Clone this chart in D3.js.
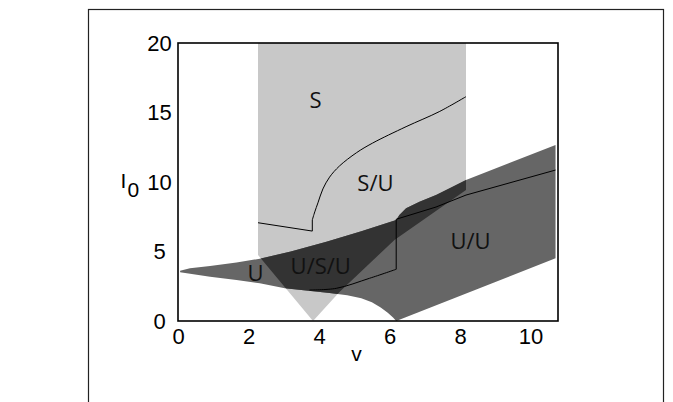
<!DOCTYPE html>
<html>
<head>
<meta charset="utf-8">
<script src="https://cdn.jsdelivr.net/npm/d3@7"></script>
<style>
  body { margin: 0; background: #fff; }
  .tick text { font-family: "Liberation Sans", Arial, sans-serif; font-size: 22px; fill: #000; }
</style>
</head>
<body>
<div id="chart"></div>
<script>
// Data (v, I0)
const xTicks = [0, 2, 4, 6, 8, 10]
const yTicks = [0, 5, 10, 15, 20]

// light region S (above the V, between the two verticals)
const lightRegion = [
  [2.27, 20], [2.27, 4.75], [3.83, 0], [4.58, 2.09], [6.14, 5.83], [8.17, 9.42], [8.17, 20]
]

// dark band U / U/U : upper and lower edges
const bandTop = [
  [0.06, 3.62], [0.34, 3.79], [0.91, 3.96], [1.66, 4.2], [2.32, 4.48], [3.2, 5.0],
  [4.21, 5.71], [5.2, 6.45], [6.19, 7.27], [6.28, 7.63], [6.47, 8.11], [6.85, 8.58],
  [7.32, 9.06], [7.79, 9.66], [8.17, 10.14], [10.71, 12.66]
]
const bandBottom = [
  [0.06, 3.5], [0.91, 3.19], [1.66, 2.95], [2.32, 2.71], [3.03, 2.35], [3.7, 2.17],
  [4.3, 2.02], [4.8, 1.86], [5.2, 1.63], [5.5, 1.35], [5.75, 0.98], [5.95, 0.6],
  [6.1, 0.25], [6.19, 0], [10.71, 4.51]
]

// black boundary curves
const upperStep = [[2.27, 7.07], [3.81, 6.47], [3.81, 7.27]]
const upperCurve = [
  [3.81, 7.27], [3.88, 7.85], [3.97, 8.5], [4.11, 9.5], [4.3, 10.35], [4.58, 11.15],
  [5.06, 12.1], [5.52, 12.8], [6.47, 13.98], [7.41, 15.06], [8.17, 16.14]
]
const lowerLeft = [[3.73, 2.23], [4.49, 2.35], [5.43, 3.07], [6.19, 3.72]]
const lowerRight = [[6.19, 3.72], [6.19, 7.32], [7.32, 8.2], [8.17, 9.06], [10.71, 10.86]]

const regionLabels = [
  { text: "S", v: 3.9, i: 15.9 },
  { text: "S/U", v: 5.6, i: 9.9 },
  { text: "U/S/U", v: 4.05, i: 3.95 },
  { text: "U", v: 2.2, i: 3.4 },
  { text: "U/U", v: 8.3, i: 5.7 }
]

// Dimensions
let dimensions = {
  width: 673,
  height: 402,
  left: 178,
  right: 558,
  top: 43,
  bottom: 321,
}

const svg = d3.select('#chart')
  .append("svg")
  .attr("width", dimensions.width)
  .attr("height", dimensions.height)

// outer frame
svg.append("rect")
  .attr("x", 88.5)
  .attr("y", 9.5)
  .attr("width", 575)
  .attr("height", 420)
  .attr("fill", "none")
  .attr("stroke", "#222")
  .attr("stroke-width", 1.2)

// Scales
const xScale = d3.scaleLinear()
  .domain([0, 10.78])
  .range([dimensions.left, dimensions.right])

const yScale = d3.scaleLinear()
  .domain([0, 20])
  .range([dimensions.bottom, dimensions.top])

const line = d3.line()
  .x(d => xScale(d[0]))
  .y(d => yScale(d[1]))

const smooth = d3.line()
  .x(d => xScale(d[0]))
  .y(d => yScale(d[1]))
  .curve(d3.curveCatmullRom.alpha(0.5))

const bandPoly = bandTop.concat(bandBottom.slice().reverse())

svg.append("clipPath")
  .attr("id", "lightClip")
  .append("path")
  .attr("d", line(lightRegion) + "Z")

svg.append("path")
  .attr("d", line(lightRegion) + "Z")
  .attr("fill", "#c8c8c8")

svg.append("path")
  .attr("d", line(bandPoly) + "Z")
  .attr("fill", "#666666")

// overlap of both regions
svg.append("path")
  .attr("d", line(bandPoly) + "Z")
  .attr("fill", "#333333")
  .attr("clip-path", "url(#lightClip)")

const curves = [
  [upperStep, line], [upperCurve, smooth], [lowerLeft, smooth], [lowerRight, line]
]
curves.forEach(([pts, gen]) => {
  svg.append("path")
    .datum(pts)
    .attr("d", gen)
    .attr("fill", "none")
    .attr("stroke", "black")
    .attr("stroke-width", 1)
})

svg.selectAll(".region")
  .data(regionLabels)
  .join("text")
  .attr("class", "region")
  .attr("x", d => xScale(d.v))
  .attr("y", d => yScale(d.i))
  .attr("dy", "0.35em")
  .attr("text-anchor", "middle")
  .attr("font-family", "'Open Sans', sans-serif")
  .attr("font-size", 22)
  .attr("fill", "#111")
  .text(d => d.text)

// plot box
svg.append("rect")
  .attr("x", dimensions.left)
  .attr("y", dimensions.top)
  .attr("width", dimensions.right - dimensions.left)
  .attr("height", dimensions.bottom - dimensions.top)
  .attr("fill", "none")
  .attr("stroke", "black")
  .attr("stroke-width", 1.6)

// Axes
const xAxis = d3.axisBottom(xScale)
  .tickValues(xTicks)
  .tickSize(0)
  .tickPadding(7)

const yAxis = d3.axisLeft(yScale)
  .tickValues(yTicks)
  .tickSize(0)

const xAxisGroup = svg.append("g")
  .attr("transform", `translate(0, ${dimensions.bottom})`)
  .call(xAxis)
xAxisGroup.select(".domain").remove()

const yAxisGroup = svg.append("g")
  .attr("transform", `translate(${dimensions.left}, 0)`)
  .call(yAxis)
yAxisGroup.select(".domain").remove()
yAxisGroup.selectAll(".tick text")
  .attr("x", -18.5)
  .attr("text-anchor", "middle")

svg.append("text")
  .attr("x", 356.5)
  .attr("y", 361)
  .attr("text-anchor", "middle")
  .attr("font-family", "'Liberation Sans', Arial, sans-serif")
  .attr("font-size", 21)
  .attr("fill", "#000")
  .text("v")

const yLabel = svg.append("text")
  .attr("x", 120.5)
  .attr("y", 188)
  .attr("font-family", "'Liberation Sans', Arial, sans-serif")
  .attr("font-size", 21)
  .attr("fill", "#000")
  .text("I")
yLabel.append("tspan")
  .attr("x", 127.5)
  .attr("y", 196.5)
  .text("0")
</script>
</body>
</html>
